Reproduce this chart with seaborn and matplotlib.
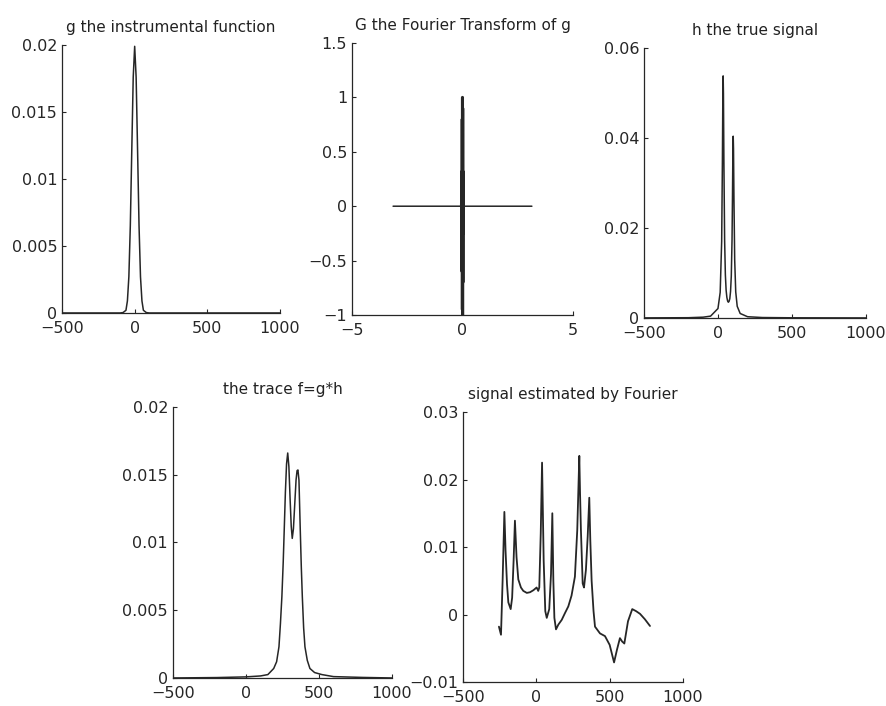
import matplotlib
matplotlib.use("Agg")
import matplotlib.pyplot as plt
import matplotlib.ticker as mticker
import pandas as pd
import seaborn as sns

g_x = [-500, -200, -100, -80, -60, -50, -40, -30, -20, -10, 0, 10, 20, 30, 40, 50, 60, 80, 100, 200, 1000]
g_y = [0, 0, 0, 0.00003, 0.0002, 0.0009, 0.0027, 0.0065, 0.0121, 0.0176, 0.0199,
       0.0176, 0.0121, 0.0065, 0.0027, 0.0009, 0.0002, 0.00003, 0, 0, 0]

# G : Fourier transform of g (panel 2), dense oscillation near 0
G_x = [-3.14, -0.045, -0.04, -0.035, -0.03, -0.025, -0.02, -0.015, -0.01, -0.005, 0.0,
       0.005, 0.01, 0.015, 0.02, 0.025, 0.03, 0.035, 0.04, 0.045, 3.14]
G_y = [0, 0, 0.1, -0.2, 0.3, -0.25, 0.32, -0.6, 0.8, -0.95, 1.0,
       -1.0, 0.9, -0.7, 0.32, -0.25, 0.3, -0.2, 0.1, 0, 0]

# h : true signal (panel 3)
h_x = [-500, -200, -100, -50, 0, 15, 25, 30, 33, 35, 37, 40, 45, 50, 55, 60, 65, 70, 75, 80,
       85, 90, 95, 98, 101, 103, 105, 108, 113, 120, 130, 150, 200, 300, 500, 1000]
h_y = [0.00002, 0.00006, 0.00018, 0.00041, 0.0021, 0.0057, 0.0170, 0.0349, 0.0497, 0.0538,
       0.0498, 0.0350, 0.0172, 0.0096, 0.0062, 0.0046, 0.0038, 0.0035, 0.0037, 0.0043,
       0.0059, 0.0093, 0.0174, 0.0266, 0.0377, 0.0404, 0.0376, 0.0265, 0.0129, 0.0058,
       0.0026, 0.0010, 0.00028, 0.0001, 0.00004, 0.00001]

# f = g*h : the trace (panel 4)
f_x = [-500, -200, 0, 100, 150, 190, 210, 226, 236, 246, 255, 262, 270, 278, 286, 294, 302,
       310, 317, 325, 334, 343, 350, 356, 363, 372, 379, 386, 395, 404, 420, 438, 470, 520,
       600, 800, 1000]
f_y = [0, 0.00003, 0.00008, 0.00015, 0.00025, 0.0007, 0.0012, 0.0023, 0.0040, 0.0060,
       0.0085, 0.0109, 0.0137, 0.0158, 0.0166, 0.0156, 0.0133, 0.0112, 0.0103, 0.0110,
       0.0128, 0.0146, 0.0153, 0.01535, 0.0146, 0.0109, 0.0082, 0.0060, 0.0037, 0.0023,
       0.0013, 0.0007, 0.0004, 0.00025, 0.0001, 0.00004, 0]

# signal estimated by Fourier (panel 5)
e_x = [-255, -241, -230, -218, -210, -200, -191, -175, -165, -155, -146, -135, -123, -105,
       -89, -65, -43, -20, 2, 13, 20, 30, 39, 50, 61, 71, 88, 100, 109, 116, 123, 134, 150,
       173, 195, 218, 240, 263, 279, 286, 293, 298, 304, 316, 325, 338, 350, 361, 368, 377,
       390, 400, 434, 468, 500, 530, 550, 570, 585, 600, 625, 654, 680, 707, 740, 775]
e_y = [-0.0018, -0.0030, 0.0050, 0.0152, 0.0095, 0.0045, 0.0018, 0.0008, 0.0025, 0.0080,
       0.0139, 0.0085, 0.0052, 0.0040, 0.0035, 0.0032, 0.0033, 0.0036, 0.0040, 0.0035,
       0.0040, 0.0120, 0.0225, 0.0080, 0.0005, -0.0005, 0.0008, 0.0060, 0.0150, 0.0050,
       -0.0005, -0.0022, -0.0015, -0.0008, 0.0002, 0.0012, 0.0028, 0.0056, 0.0125, 0.0180,
       0.0235, 0.0180, 0.0125, 0.0046, 0.0040, 0.0066, 0.0115, 0.0173, 0.0110, 0.0050,
       0.0005, -0.0018, -0.0028, -0.0032, -0.0045, -0.0071, -0.0052, -0.0035, -0.0040,
       -0.0043, -0.0010, 0.0008, 0.0005, 0.0001, -0.0007, -0.0017]

titles = ["g the instrumental function", "G the Fourier Transform of g", "h the true signal",
          "the trace f=g*h", "signal estimated by Fourier"]

sns.set_theme(style="ticks")
plt.rcParams["font.family"] = ["DejaVu Sans"]
plt.rcParams["xtick.direction"] = "in"
plt.rcParams["ytick.direction"] = "in"

fig = plt.figure(figsize=(8.87, 7.06), dpi=100)

# panel boxes: left, bottom, width, height
boxes = [
    [0.0699, 0.5567, 0.2458, 0.3796],
    [0.3968, 0.5538, 0.2492, 0.3853],
    [0.7260, 0.5496, 0.2503, 0.3824],
    [0.1950, 0.0397, 0.2469, 0.3839],
    [0.5220, 0.0340, 0.2480, 0.3824],
]
series = [(g_x, g_y), (G_x, G_y), (h_x, h_y), (f_x, f_y), (e_x, e_y)]
widths = [1.1, 1.1, 1.1, 1.1, 1.3]
xlims = [(-500, 1000), (-5, 5), (-500, 1000), (-500, 1000), (-500, 1000)]
ylims = [(0, 0.02), (-1, 1.5), (0, 0.06), (0, 0.02), (-0.01, 0.03)]
xticks = [[-500, 0, 500, 1000], [-5, 0, 5], [-500, 0, 500, 1000], [-500, 0, 500, 1000],
          [-500, 0, 500, 1000]]
yticks = [[0, 0.005, 0.01, 0.015, 0.02], [-1, -0.5, 0, 0.5, 1, 1.5], [0, 0.02, 0.04, 0.06],
          [0, 0.005, 0.01, 0.015, 0.02], [-0.01, 0, 0.01, 0.02, 0.03]]

ink = "#262626"
fmt = mticker.FuncFormatter(lambda v, p: ("%g" % round(v, 6)).replace("-", "\u2212"))

for i in range(5):
    ax = fig.add_axes(boxes[i])
    xs, ys = series[i]
    df = pd.DataFrame({"x": xs, "y": ys})
    sns.lineplot(data=df, x="x", y="y", ax=ax, color=ink, linewidth=widths[i],
                 sort=False, estimator=None)
    if i == 1:
        # dense central oscillation of G drawn heavier
        sns.lineplot(x=G_x[1:-1], y=G_y[1:-1], ax=ax, color=ink, linewidth=2.2,
                     sort=False, estimator=None)
    ax.set_xlim(*xlims[i])
    ax.set_ylim(*ylims[i])
    ax.set_xticks(xticks[i])
    ax.set_yticks(yticks[i])
    ax.xaxis.set_major_formatter(fmt)
    ax.yaxis.set_major_formatter(fmt)
    ax.set_xlabel("")
    ax.set_ylabel("")
    ax.set_title(titles[i], fontsize=11, color="#222222", pad=9.5)
    ax.tick_params(length=3, width=0.8, colors=ink, labelsize=11.5)
    ax.tick_params(axis="x", pad=5.5)
    ax.tick_params(axis="y", pad=3.5)
    for s in ["left", "bottom"]:
        ax.spines[s].set_color(ink)
        ax.spines[s].set_linewidth(0.9)
    sns.despine(ax=ax)

fig.savefig("out.png", dpi=100)
